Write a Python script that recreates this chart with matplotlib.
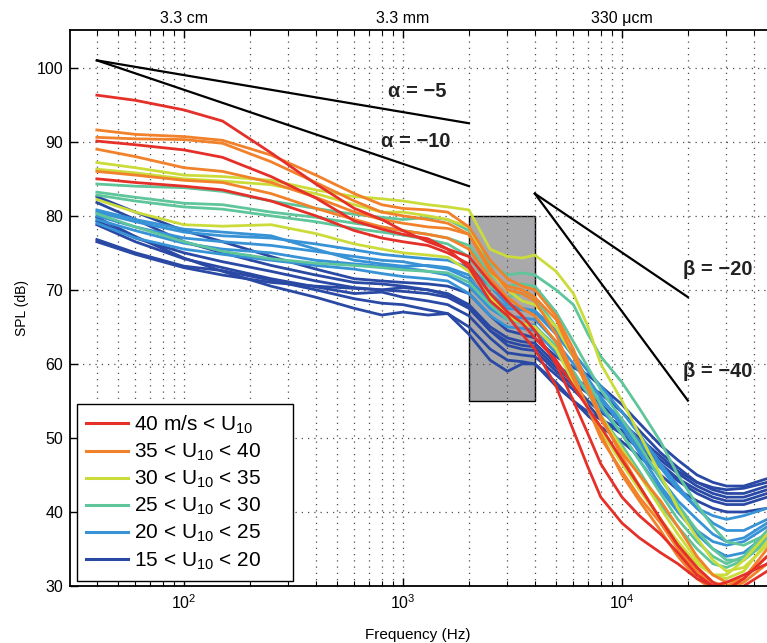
import matplotlib
matplotlib.use("Agg")
import matplotlib.pyplot as plt
import numpy as np
from matplotlib.lines import Line2D
from matplotlib.patches import Rectangle
from matplotlib.ticker import FixedLocator, LogLocator, NullFormatter

plt.rcParams["font.family"] = ["Liberation Sans", "DejaVu Sans"]
plt.rcParams["mathtext.default"] = "regular"

# frequency grid shared by every spectrum (Hz)
FREQ = [40, 60, 100, 150, 250, 400, 600, 800, 1000, 1300, 1600, 2000, 2500, 3000, 3500,
        4000, 5000, 6000, 7000, 8000, 10000, 12000, 15000, 18000, 22000, 26000, 30000,
        36000, 46000, 60000]

# SPL spectra (dB) grouped by wind-speed class
DARK_BLUE = [
    [82.6, 80.5, 78.0, 76.5, 74.5, 72.8, 71.5, 71.2, 71.0, 70.8, 70.5, 69.5, 66.5, 64.5, 64.0,
     63.5, 61.0, 59.5, 58.5, 57.0, 54.5, 52.0, 49.0, 47.0, 45.0, 44.0, 43.5, 43.5, 44.5, 45.0],
    [81.8, 79.5, 76.5, 75.0, 73.3, 72.0, 71.0, 70.8, 70.5, 70.0, 69.5, 68.0, 65.0, 63.5, 63.0,
     62.8, 60.0, 58.0, 57.0, 56.0, 53.5, 51.0, 48.0, 46.0, 44.0, 43.0, 42.5, 42.5, 43.5, 44.0],
    [79.3, 77.0, 75.0, 73.8, 72.5, 71.2, 70.3, 70.0, 69.8, 69.5, 69.0, 67.5, 64.5, 62.5, 62.0,
     61.8, 59.0, 57.0, 55.0, 53.5, 51.5, 49.5, 47.0, 45.2, 43.5, 42.5, 42.0, 42.0, 43.0, 43.5],
    [78.8, 76.5, 74.2, 73.0, 71.5, 70.4, 69.5, 69.7, 69.0, 68.5, 68.0, 66.5, 63.5, 61.5, 61.2,
     61.0, 58.5, 56.5, 54.5, 52.5, 50.5, 48.5, 46.0, 44.2, 42.5, 41.5, 41.0, 41.0, 42.0, 42.5],
    [76.8, 75.0, 73.2, 72.6, 71.3, 70.0, 68.8, 68.2, 68.0, 67.3, 66.8, 65.0, 62.0, 60.5, 60.3,
     60.0, 57.5, 55.0, 53.0, 51.5, 49.5, 47.5, 45.0, 43.0, 41.5, 40.5, 40.0, 40.0, 40.5, 41.0],
    [79.8, 77.2, 74.3, 72.5, 70.5, 69.0, 67.5, 66.6, 67.0, 66.6, 66.8, 64.0, 60.5, 59.0, 60.0,
     60.0, 57.0, 55.0, 53.5, 52.5, 51.0, 49.0, 46.5, 44.5, 43.0, 42.0, 41.5, 41.5, 42.5, 43.0],
    [76.5, 74.8, 73.0, 72.0, 71.0, 70.5, 70.2, 70.0, 70.3, 70.0, 69.3, 67.8, 64.5, 63.0, 62.5,
     62.3, 59.5, 57.5, 56.0, 54.5, 52.0, 50.0, 47.5, 45.5, 44.0, 43.3, 43.0, 43.2, 44.0, 44.5],
]
LIGHT_BLUE = [
    [80.5, 79.2, 77.8, 77.3, 77.0, 76.2, 75.4, 74.8, 74.5, 74.2, 74.0, 73.0, 70.5, 68.0, 67.5,
     67.2, 64.5, 61.5, 59.0, 57.0, 53.5, 50.5, 46.5, 43.5, 40.5, 38.5, 37.5, 37.5, 39.0, 40.0],
    [80.0, 78.5, 77.0, 76.5, 76.0, 75.2, 74.5, 74.0, 73.8, 73.2, 72.8, 71.5, 68.5, 66.5, 66.2,
     66.0, 63.0, 60.0, 57.5, 55.5, 52.0, 48.5, 44.5, 41.5, 39.0, 37.0, 36.0, 36.5, 38.5, 40.0],
    [79.5, 78.0, 76.3, 75.5, 75.0, 74.0, 73.5, 73.2, 73.0, 72.5, 72.0, 70.5, 67.5, 66.0, 65.5,
     65.2, 62.0, 58.5, 56.0, 54.0, 50.5, 47.0, 43.0, 40.0, 37.0, 35.0, 34.0, 34.5, 37.0, 39.0],
    [79.0, 77.0, 75.5, 74.8, 74.0, 73.3, 72.8, 72.2, 71.8, 71.5, 71.2, 69.5, 66.5, 65.0, 64.8,
     64.5, 61.5, 58.5, 56.5, 55.0, 52.5, 49.5, 46.0, 43.0, 40.5, 39.5, 39.0, 39.5, 40.5, 41.0],
    [80.8, 79.5, 78.2, 77.8, 77.3, 75.5, 74.0, 73.5, 73.2, 73.3, 73.0, 72.0, 69.5, 67.5, 67.3,
     67.0, 64.0, 61.0, 58.0, 55.5, 51.5, 48.0, 43.5, 40.5, 37.5, 36.0, 35.5, 36.0, 38.0, 40.0],
]
TEAL = [
    [84.3, 84.0, 83.8, 83.3, 82.0, 81.0, 80.2, 79.8, 79.5, 79.8, 79.5, 78.0, 73.5, 72.0, 72.3,
     72.0, 70.0, 68.0, 64.0, 61.0, 57.5, 54.0, 49.5, 45.0, 41.0, 38.0, 36.0, 35.5, 37.0, 39.0],
    [83.2, 82.5, 81.7, 81.5, 80.5, 79.8, 79.0, 78.5, 78.0, 77.5, 77.0, 76.0, 72.0, 70.5, 70.8,
     70.5, 67.0, 63.0, 59.5, 56.5, 52.5, 49.0, 44.5, 41.0, 37.5, 35.0, 33.5, 33.5, 36.0, 38.0],
    [82.8, 82.0, 81.2, 80.9, 80.0, 79.2, 78.3, 77.8, 77.4, 76.8, 76.2, 74.5, 70.5, 69.0, 69.5,
     69.0, 65.0, 61.0, 57.5, 54.5, 50.5, 47.0, 42.5, 39.0, 36.0, 34.0, 33.0, 34.0, 37.5, 40.0],
    [80.3, 78.5, 76.5, 75.2, 74.2, 73.6, 73.3, 73.0, 72.7, 72.5, 72.3, 71.0, 68.0, 66.0, 65.5,
     65.0, 62.5, 59.0, 56.0, 53.0, 49.0, 45.5, 41.0, 38.0, 35.0, 33.0, 32.5, 33.5, 36.5, 39.0],
]
YELLOW = [
    [87.2, 86.5, 85.5, 85.3, 84.8, 83.5, 82.6, 82.3, 82.0, 81.5, 81.2, 80.8, 75.5, 74.5, 74.3,
     74.7, 72.5, 69.5, 65.0, 60.0, 55.0, 50.5, 45.0, 40.5, 36.5, 33.5, 32.0, 32.5, 35.5, 38.0],
    [86.3, 85.8, 85.0, 84.7, 84.2, 83.0, 81.5, 80.5, 80.5, 80.0, 79.5, 78.5, 72.5, 70.0, 68.5,
     68.0, 65.0, 61.0, 57.0, 53.0, 48.5, 45.0, 40.5, 37.0, 33.5, 31.5, 31.0, 32.0, 36.0, 38.0],
    [82.2, 80.5, 78.8, 78.6, 78.8, 77.6, 76.2, 75.5, 75.0, 74.7, 74.4, 72.5, 69.0, 66.5, 65.5,
     65.0, 62.0, 57.5, 54.0, 51.0, 46.5, 43.0, 39.0, 36.0, 33.0, 31.5, 31.5, 33.5, 37.0, 39.0],
]
ORANGE = [
    [91.6, 91.0, 90.7, 90.2, 88.2, 85.5, 83.0, 81.5, 81.0, 80.8, 80.5, 78.5, 74.0, 71.5, 70.5,
     70.0, 66.5, 62.0, 57.0, 53.0, 47.5, 43.5, 39.0, 35.5, 32.5, 30.5, 30.0, 31.0, 34.0, 36.0],
    [90.6, 90.4, 90.3, 89.8, 87.3, 84.5, 82.0, 80.5, 80.0, 79.5, 79.0, 77.5, 73.0, 70.0, 69.5,
     68.5, 64.0, 58.5, 54.0, 50.5, 45.0, 41.5, 37.5, 34.0, 31.0, 29.5, 29.5, 30.5, 33.0, 35.0],
    [89.0, 88.0, 86.5, 86.0, 84.5, 82.5, 80.5, 79.5, 79.0, 78.5, 78.3, 77.5, 72.5, 70.5, 70.0,
     69.0, 66.0, 61.0, 56.5, 52.5, 48.0, 45.0, 41.5, 38.0, 34.0, 31.5, 30.5, 31.0, 34.0, 36.0],
    [86.0, 85.5, 84.8, 84.5, 83.0, 81.0, 79.5, 78.5, 78.0, 77.5, 77.0, 75.5, 71.5, 69.0, 67.5,
     66.5, 63.0, 58.0, 54.0, 50.0, 45.5, 42.0, 38.5, 35.0, 32.0, 30.0, 29.5, 31.0, 35.0, 38.0],
]
RED = [
    [96.3, 95.6, 94.3, 92.8, 88.5, 84.3, 81.0, 79.5, 78.0, 76.5, 75.5, 73.0, 68.5, 66.5, 64.0,
     62.0, 57.0, 51.0, 46.0, 42.0, 38.5, 36.5, 34.5, 33.0, 31.0, 30.0, 30.5, 31.5, 33.0, 35.0],
    [90.1, 89.6, 88.9, 87.9, 85.3, 82.4, 79.3, 78.2, 77.5, 76.9, 75.5, 74.5, 71.0, 68.5, 66.5,
     64.5, 60.0, 55.0, 50.5, 46.5, 42.0, 39.5, 37.0, 34.5, 31.5, 30.0, 29.5, 31.0, 34.0, 37.0],
    [85.0, 84.5, 84.0, 83.5, 82.0, 80.0, 78.0, 77.0, 76.5, 76.0, 75.0, 73.5, 69.5, 67.0, 65.5,
     63.5, 60.5, 57.0, 54.0, 51.5, 47.0, 43.5, 39.0, 35.5, 32.5, 30.5, 29.5, 30.0, 32.0, 34.0],
]

GROUPS = [DARK_BLUE, LIGHT_BLUE, TEAL, YELLOW, ORANGE, RED]
GROUP_COLORS = ["#2a49a4", "#3893d6", "#5fc59b", "#cbdc3a", "#f1812a", "#e5302a"]
GROUP_LABELS = ["15 < U$_{10}$ < 20", "20 < U$_{10}$ < 25", "25 < U$_{10}$ < 30",
                "30 < U$_{10}$ < 35", "35 < U$_{10}$ < 40", "40 m/s < U$_{10}$"]

# reference power-law slopes (dB per decade)
ALPHA_SLOPES = [-5, -10]
ALPHA_START = (40, 101)
ALPHA_END_F = 2000
BETA_SLOPES = [-20, -40]
BETA_START = (4000, 83)
BETA_END_F = 20000

# shaded band
BAND_F = (2000, 4000)
BAND_DB = (55, 80)

fig = plt.figure(figsize=(7.67, 6.43), dpi=100)
ax = fig.add_axes([70 / 767, 57 / 643, 730 / 767, 556 / 643])
ax.set_xscale("log")
ax.set_xlim(10 ** 1.4795, 10 ** 4.8128)
ax.set_ylim(30, 105.1)

ax.add_patch(Rectangle((BAND_F[0], BAND_DB[0]), BAND_F[1] - BAND_F[0], BAND_DB[1] - BAND_DB[0],
                       facecolor="#a9a9ab", edgecolor="black", linewidth=1.0, zorder=0.5))

for curves, color in zip(GROUPS, GROUP_COLORS):
    for spl in curves:
        ax.plot(FREQ, spl, color=color, lw=2.0, solid_joinstyle="round", zorder=2)

for slope in ALPHA_SLOPES:
    f0, y0 = ALPHA_START
    ax.plot([f0, ALPHA_END_F], [y0, y0 + slope * np.log10(ALPHA_END_F / f0)],
            color="black", lw=1.6, zorder=3)
for slope in BETA_SLOPES:
    f0, y0 = BETA_START
    ax.plot([f0, BETA_END_F], [y0, y0 + slope * np.log10(BETA_END_F / f0)],
            color="black", lw=1.6, zorder=3)

lab_kw = dict(fontsize=14.5, fontweight="bold", va="center", ha="left", color="#222222")
ax.text(853, 96.8, "α = −5", **lab_kw)
ax.text(794, 90.0, "α = −10", **lab_kw)
ax.text(19000, 72.7, "β = −20", **lab_kw)
ax.text(19000, 59.0, "β = −40", **lab_kw)

# MATLAB-like dotted grid on major and minor decades
ax.set_axisbelow("line")
ax.yaxis.set_major_locator(FixedLocator(np.arange(30, 101, 10)))
ax.xaxis.set_minor_locator(LogLocator(base=10, subs=np.arange(2, 10)))
ax.xaxis.set_minor_formatter(NullFormatter())
ax.grid(True, which="major", axis="both", color="0.3", lw=0.9, linestyle=(0, (1, 4)))
ax.grid(True, which="minor", axis="x", color="0.3", lw=0.9, linestyle=(0, (1, 4)))
ax.tick_params(which="both", direction="in", top=True, right=False, labelsize=11.5, pad=5)
ax.tick_params(which="major", length=6, width=1.0)
ax.tick_params(which="minor", length=3.5, width=0.8)
for side in ["left", "bottom", "top"]:
    ax.spines[side].set_linewidth(1.3)
ax.spines["right"].set_visible(False)

sec = ax.secondary_xaxis("top")
sec.set_xticks([100, 1000, 10000], labels=["3.3 cm", "3.3 mm", "330 μcm"])
sec.tick_params(which="both", length=0, labelsize=11.5, pad=3)
sec.xaxis.set_minor_formatter(NullFormatter())
sec.spines["top"].set_visible(False)

ax.set_xlabel("Frequency (Hz)", fontsize=11)
ax.xaxis.set_label_coords((418 - 70) / 730, -0.075)
ax.set_ylabel("SPL (dB)", fontsize=10, labelpad=5)

handles = [Line2D([], [], color=c, lw=2.2) for c in GROUP_COLORS[::-1]]
labels = [lab + "\u2003\u2003" for lab in GROUP_LABELS[::-1]]
leg = ax.legend(handles, labels, loc="lower left",
                bbox_to_anchor=(77 / 767, 62 / 643), bbox_transform=fig.transFigure,
                borderaxespad=0, fontsize=15, handlelength=2.0, handletextpad=0.3,
                labelspacing=0.28, borderpad=0.45, fancybox=False, framealpha=1,
                edgecolor="black")
leg.get_frame().set_linewidth(1.0)
leg.set_zorder(5)

fig.savefig("out.png", dpi=100, facecolor="white")
